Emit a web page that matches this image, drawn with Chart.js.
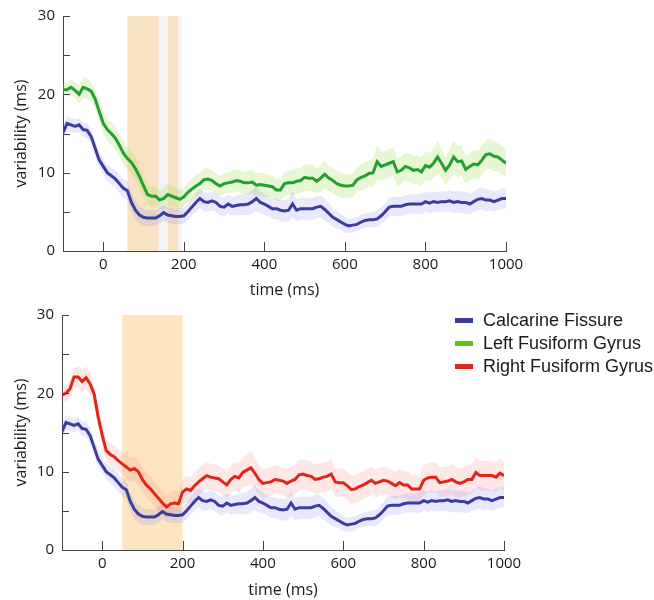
<!DOCTYPE html>
<html>
<head>
<meta charset="utf-8">
<script src="https://cdn.jsdelivr.net/npm/chart.js@4.4.1/dist/chart.umd.min.js"></script>
<style>
  html, body { margin: 0; padding: 0; background: #fff; }
  body { width: 654px; height: 600px; position: relative; overflow: hidden; }
  .panel { position: absolute; left: 0; width: 654px; height: 300px; }
  #legend { position: absolute; left: 455px; top: 309px; font-family: "Liberation Sans", Arial, sans-serif; font-size: 18px; color: #1a1a1a; }
  #legend .row { height: 23px; line-height: 23px; white-space: nowrap; }
  #legend .sw { display: inline-block; width: 18px; height: 5px; vertical-align: middle; margin-right: 10px; position: relative; top: -1px; }
</style>
</head>
<body>
<div class="panel" style="top:0"><canvas id="topChart" width="654" height="300"></canvas></div>
<div class="panel" style="top:300px"><canvas id="bottomChart" width="654" height="300"></canvas></div>
<div id="legend"></div>
<script>
/* global Chart */
// time axis: -100 .. 1000 ms, one sample every 10 ms
const TIME_START = -100;
const TIME_STEP = 10;

const calcarine = [
  15.1, 16.3, 16.1, 15.9, 16.1, 15.5, 15.4, 14.6, 13.1, 11.6,
  10.8, 10.0, 9.6, 9.2, 8.6, 8.0, 7.7, 6.2, 5.2, 4.6,
  4.3, 4.2, 4.2, 4.2, 4.5, 4.9, 4.6, 4.5, 4.4, 4.4,
  4.5, 5.0, 5.6, 6.2, 6.7, 6.3, 6.2, 6.4, 6.2, 5.7,
  5.6, 6.0, 5.7, 5.8, 5.9, 5.9, 6.0, 6.3, 6.7, 6.2,
  6.0, 5.7, 5.4, 5.4, 5.2, 5.1, 5.2, 6.0, 5.2, 5.4,
  5.4, 5.4, 5.4, 5.6, 5.7, 5.3, 4.8, 4.3, 4.0, 3.7,
  3.4, 3.2, 3.3, 3.4, 3.7, 3.9, 4.0, 4.0, 4.1, 4.5,
  5.0, 5.6, 5.7, 5.7, 5.7, 5.9, 6.0, 6.0, 6.0, 6.0,
  6.3, 6.1, 6.3, 6.2, 6.3, 6.3, 6.4, 6.2, 6.3, 6.2,
  6.2, 6.0, 6.3, 6.6, 6.7, 6.5, 6.5, 6.3, 6.5, 6.7,
  6.7
];
const calcarineErr = [
  0.9, 0.9, 0.9, 0.9, 0.9, 0.9, 1.0, 1.0, 1.0, 1.0,
  1.0, 1.0, 1.1, 1.1, 1.2, 1.2, 1.2, 1.2, 1.2, 1.1,
  1.1, 1.0, 1.0, 1.0, 1.0, 1.0, 1.0, 1.0, 1.0, 1.0,
  1.0, 1.1, 1.1, 1.2, 1.2, 1.2, 1.2, 1.2, 1.2, 1.2,
  1.2, 1.2, 1.2, 1.2, 1.3, 1.3, 1.4, 1.5, 1.6, 1.4,
  1.3, 1.3, 1.3, 1.3, 1.3, 1.4, 1.4, 1.6, 1.4, 1.4,
  1.4, 1.4, 1.4, 1.4, 1.4, 1.4, 1.3, 1.2, 1.1, 1.0,
  1.0, 0.9, 0.9, 0.9, 0.9, 0.9, 0.9, 1.0, 1.0, 1.1,
  1.1, 1.2, 1.2, 1.2, 1.2, 1.2, 1.2, 1.2, 1.2, 1.3,
  1.3, 1.3, 1.3, 1.3, 1.3, 1.3, 1.4, 1.4, 1.4, 1.4,
  1.4, 1.3, 1.3, 1.4, 1.4, 1.4, 1.3, 1.3, 1.3, 1.3,
  1.3
];

const leftFusiform = [
  20.6, 20.6, 20.9, 20.5, 20.0, 20.9, 20.7, 20.4, 19.4, 17.8,
  16.3, 15.5, 15.0, 14.4, 13.5, 12.5, 11.8, 11.3, 10.5, 9.5,
  8.3, 7.2, 7.0, 7.0, 6.5, 6.7, 7.2, 7.0, 6.8, 6.6,
  6.9, 7.5, 7.9, 8.3, 8.6, 9.1, 9.2, 9.0, 8.6, 8.3,
  8.6, 8.7, 8.8, 9.0, 8.9, 8.7, 8.7, 8.8, 8.4, 8.5,
  8.4, 8.3, 8.2, 7.8, 7.8, 8.6, 8.7, 8.7, 8.9, 9.0,
  9.4, 9.3, 9.3, 8.9, 9.3, 9.8, 9.3, 9.0, 8.6, 8.4,
  8.3, 8.3, 8.4, 9.1, 9.4, 9.6, 9.9, 10.0, 11.4, 10.8,
  11.0, 11.2, 11.4, 10.1, 10.3, 10.8, 10.6, 10.3, 10.4, 10.1,
  10.9, 10.7, 11.2, 12.0, 11.2, 10.3, 11.0, 12.0, 11.4, 11.5,
  10.4, 10.8, 11.1, 11.0, 11.6, 12.3, 12.4, 12.1, 12.0, 11.6,
  11.2
];
const leftFusiformErr = [
  0.8, 0.9, 1.0, 1.0, 1.1, 1.4, 1.3, 1.2, 1.2, 1.3,
  1.4, 1.4, 1.5, 1.5, 1.5, 1.5, 1.4, 1.4, 1.4, 1.4,
  1.3, 1.2, 1.2, 1.2, 1.2, 1.3, 1.4, 1.3, 1.2, 1.2,
  1.2, 1.3, 1.3, 1.4, 1.4, 1.4, 1.4, 1.3, 1.3, 1.3,
  1.3, 1.3, 1.4, 1.4, 1.4, 1.4, 1.5, 1.5, 1.6, 1.5,
  1.5, 1.4, 1.4, 1.4, 1.4, 1.5, 1.5, 1.6, 1.6, 1.6,
  1.7, 1.7, 1.7, 1.6, 1.7, 1.8, 1.6, 1.6, 1.6, 1.6,
  1.5, 1.5, 1.5, 1.6, 1.6, 1.7, 1.7, 1.8, 2.2, 1.9,
  1.8, 1.8, 1.8, 1.8, 1.7, 1.7, 1.8, 1.8, 1.8, 1.8,
  1.8, 1.8, 1.9, 2.1, 1.9, 1.8, 1.9, 2.2, 2.0, 1.9,
  1.8, 1.8, 1.8, 1.8, 1.9, 1.9, 1.9, 1.9, 1.8, 1.8,
  1.7
];

const rightFusiform = [
  19.8, 20.0, 20.6, 22.1, 22.1, 21.5, 22.0, 21.2, 19.9, 17.0,
  14.7, 12.7, 12.2, 11.9, 11.4, 11.0, 10.6, 10.2, 10.4, 10.0,
  9.0, 8.3, 7.8, 7.2, 6.6, 6.0, 5.5, 5.9, 6.0, 5.9,
  7.4, 7.8, 7.6, 8.2, 8.7, 9.1, 9.5, 9.3, 9.2, 9.1,
  8.7, 8.3, 9.0, 9.4, 9.2, 9.9, 10.2, 10.5, 9.8, 9.0,
  8.5, 8.6, 8.7, 9.0, 8.9, 8.8, 8.5, 8.8, 9.0, 9.6,
  9.7, 9.5, 9.4, 9.0, 9.1, 9.3, 9.4, 9.7, 8.7, 8.6,
  8.6, 8.2, 7.7, 7.8, 8.1, 8.3, 8.6, 8.9, 8.5, 8.7,
  8.9, 8.8, 8.5, 8.2, 8.6, 8.3, 8.3, 7.8, 7.8, 7.8,
  8.9, 9.2, 9.3, 9.3, 8.6, 8.7, 8.8, 9.0, 8.7, 8.5,
  8.7, 9.0, 9.0, 9.9, 9.5, 9.5, 9.5, 9.5, 9.3, 9.8,
  9.5
];
const rightFusiformErr = [
  0.9, 1.0, 1.1, 1.2, 1.4, 1.5, 1.5, 1.4, 1.3, 1.3,
  1.3, 1.3, 1.4, 1.4, 1.4, 1.5, 1.5, 1.6, 1.6, 1.6,
  1.6, 1.6, 1.6, 1.5, 1.5, 1.5, 1.5, 1.6, 1.6, 1.6,
  1.6, 1.7, 1.7, 1.7, 1.7, 1.7, 1.7, 1.7, 1.7, 1.7,
  1.7, 1.7, 1.8, 1.8, 1.9, 1.9, 2.0, 2.1, 2.0, 1.9,
  1.8, 1.8, 1.8, 1.8, 1.8, 1.8, 1.8, 1.9, 1.9, 1.9,
  1.9, 1.9, 1.9, 1.9, 1.9, 1.9, 1.9, 1.9, 1.8, 1.8,
  1.8, 1.8, 1.8, 1.8, 1.8, 1.8, 1.8, 1.8, 1.8, 1.8,
  1.8, 1.8, 1.8, 1.8, 1.8, 1.8, 1.8, 1.8, 1.8, 1.8,
  1.9, 1.9, 1.9, 1.9, 1.9, 1.9, 1.9, 1.9, 1.9, 1.9,
  1.9, 1.9, 1.9, 1.9, 1.9, 1.9, 1.9, 1.9, 1.9, 1.9,
  1.8
];

// highlighted time windows [start, end] in ms
const topWindows = [[60, 137], [161, 186]];
const topWindowsFaint = [[137, 161], [186, 197]];
const bottomWindows = [[50, 200]];

const xTicks = [0, 200, 400, 600, 800, 1000];
const yTicks = [0, 5, 10, 15, 20, 25, 30];
const yLabelTicks = [0, 10, 20, 30];

const legendNames = ['Calcarine Fissure', 'Left Fusiform Gyrus', 'Right Fusiform Gyrus'];
const legendColors = ['#3c3b9e', '#62c21c', '#e3241b'];

const COLORS = {
  blue: '#3c3b9e', blueBand: 'rgba(120,110,235,0.16)',
  green: '#20a030', greenBand: 'rgba(160,220,80,0.25)',
  red: '#e3241b', redBand: 'rgba(245,120,120,0.18)',
  axis: '#444', text: '#1a1a1a'
};

Chart.defaults.font.family = '"Open Sans", "DejaVu Sans", sans-serif';
Chart.defaults.color = COLORS.text;

const times = calcarine.map((_, i) => TIME_START + i * TIME_STEP);
const pts = (vals, err, sign) => vals.map((v, i) => ({ x: times[i], y: err ? v + sign * err[i] : v }));

function seriesSets(vals, err, line, band) {
  return [
    { data: pts(vals, null, 0), borderColor: line, borderWidth: 3, pointRadius: 0, tension: 0, fill: false, order: 0 },
    { data: pts(vals, err, 1), borderWidth: 0, pointRadius: 0, tension: 0, fill: false, order: 2 },
    { data: pts(vals, err, -1), borderWidth: 0, pointRadius: 0, tension: 0, fill: '-1', backgroundColor: band, order: 2 }
  ];
}

// shaded windows behind the data
const windowPlugin = {
  id: 'windows',
  beforeDatasetsDraw(chart, args, opts) {
    const { ctx, chartArea: a, scales: { x } } = chart;
    ctx.save();
    (opts.faint || []).forEach(([s, e]) => {
      ctx.fillStyle = '#f3f3f5';
      ctx.fillRect(x.getPixelForValue(s), a.top, x.getPixelForValue(e) - x.getPixelForValue(s), a.bottom - a.top);
    });
    (opts.spans || []).forEach(([s, e]) => {
      ctx.fillStyle = opts.color;
      ctx.fillRect(x.getPixelForValue(s), a.top, x.getPixelForValue(e) - x.getPixelForValue(s), a.bottom - a.top);
    });
    ctx.restore();
  }
};

// matlab style inward tick marks
const inwardTicks = {
  id: 'inwardTicks',
  afterDraw(chart) {
    const { ctx, chartArea: a, scales: { x, y } } = chart;
    ctx.save();
    ctx.strokeStyle = COLORS.axis;
    ctx.lineWidth = 1;
    ctx.beginPath();
    yTicks.forEach(v => {
      const py = Math.round(y.getPixelForValue(v)) + 0.5;
      ctx.moveTo(a.left, py); ctx.lineTo(a.left + 7, py);
    });
    xTicks.forEach(v => {
      const px = Math.round(x.getPixelForValue(v)) + 0.5;
      ctx.moveTo(px, a.bottom); ctx.lineTo(px, a.bottom - 9);
    });
    ctx.stroke();
    ctx.restore();
  }
};

function makeChart(id, datasets, pad, yWidth, xHeight, windowOpts) {
  return new Chart(document.getElementById(id), {
    type: 'line',
    data: { datasets },
    plugins: [windowPlugin, inwardTicks],
    options: {
      responsive: false,
      devicePixelRatio: 1,
      animation: false,
      layout: { padding: pad },
      plugins: { legend: { display: false }, tooltip: { enabled: false }, windows: windowOpts },
      scales: {
        x: {
          type: 'linear', min: -100, max: 1000,
          afterBuildTicks: s => { s.ticks = xTicks.map(v => ({ value: v })); },
          afterFit: s => { s.height = xHeight; s.paddingLeft = 0; s.paddingRight = 0; },
          grid: { display: false, drawTicks: false },
          border: { color: COLORS.axis, width: 1 },
          ticks: { padding: 5, font: { size: 15 }, color: COLORS.text, maxRotation: 0, callback: v => String(v) },
          title: { display: true, text: 'time (ms)', font: { size: 16 }, padding: 0, color: COLORS.text }
        },
        y: {
          min: 0, max: 30,
          afterBuildTicks: s => { s.ticks = yLabelTicks.map(v => ({ value: v })); },
          afterFit: s => { s.width = yWidth; s.paddingTop = 0; s.paddingBottom = 0; },
          grid: { display: false, drawTicks: false },
          border: { color: COLORS.axis, width: 1 },
          ticks: { padding: 8, font: { size: 15 }, color: COLORS.text, callback: v => String(v) },
          title: { display: true, text: 'variability (ms)', font: { size: 16 }, padding: { top: 12 }, color: COLORS.text }
        }
      }
    }
  });
}

makeChart('topChart',
  [...seriesSets(calcarine, calcarineErr, COLORS.blue, COLORS.blueBand),
   ...seriesSets(leftFusiform, leftFusiformErr, COLORS.green, COLORS.greenBand)],
  { top: 16, right: 148, left: 0, bottom: 0 }, 63, 49,
  { spans: topWindows, faint: topWindowsFaint, color: '#f7e3c3' });

makeChart('bottomChart',
  [...seriesSets(calcarine, calcarineErr, COLORS.blue, COLORS.blueBand),
   ...seriesSets(rightFusiform, rightFusiformErr, COLORS.red, COLORS.redBand)],
  { top: 15, right: 150, left: 0, bottom: 0 }, 62, 50,
  { spans: bottomWindows, color: '#fde6bf' });

// legend for both panels
const legend = document.getElementById('legend');
legendNames.forEach((name, i) => {
  const row = document.createElement('div');
  row.className = 'row';
  row.innerHTML = '<span class="sw" style="background:' + legendColors[i] + '"></span>' + name;
  legend.appendChild(row);
});
</script>
</body>
</html>
